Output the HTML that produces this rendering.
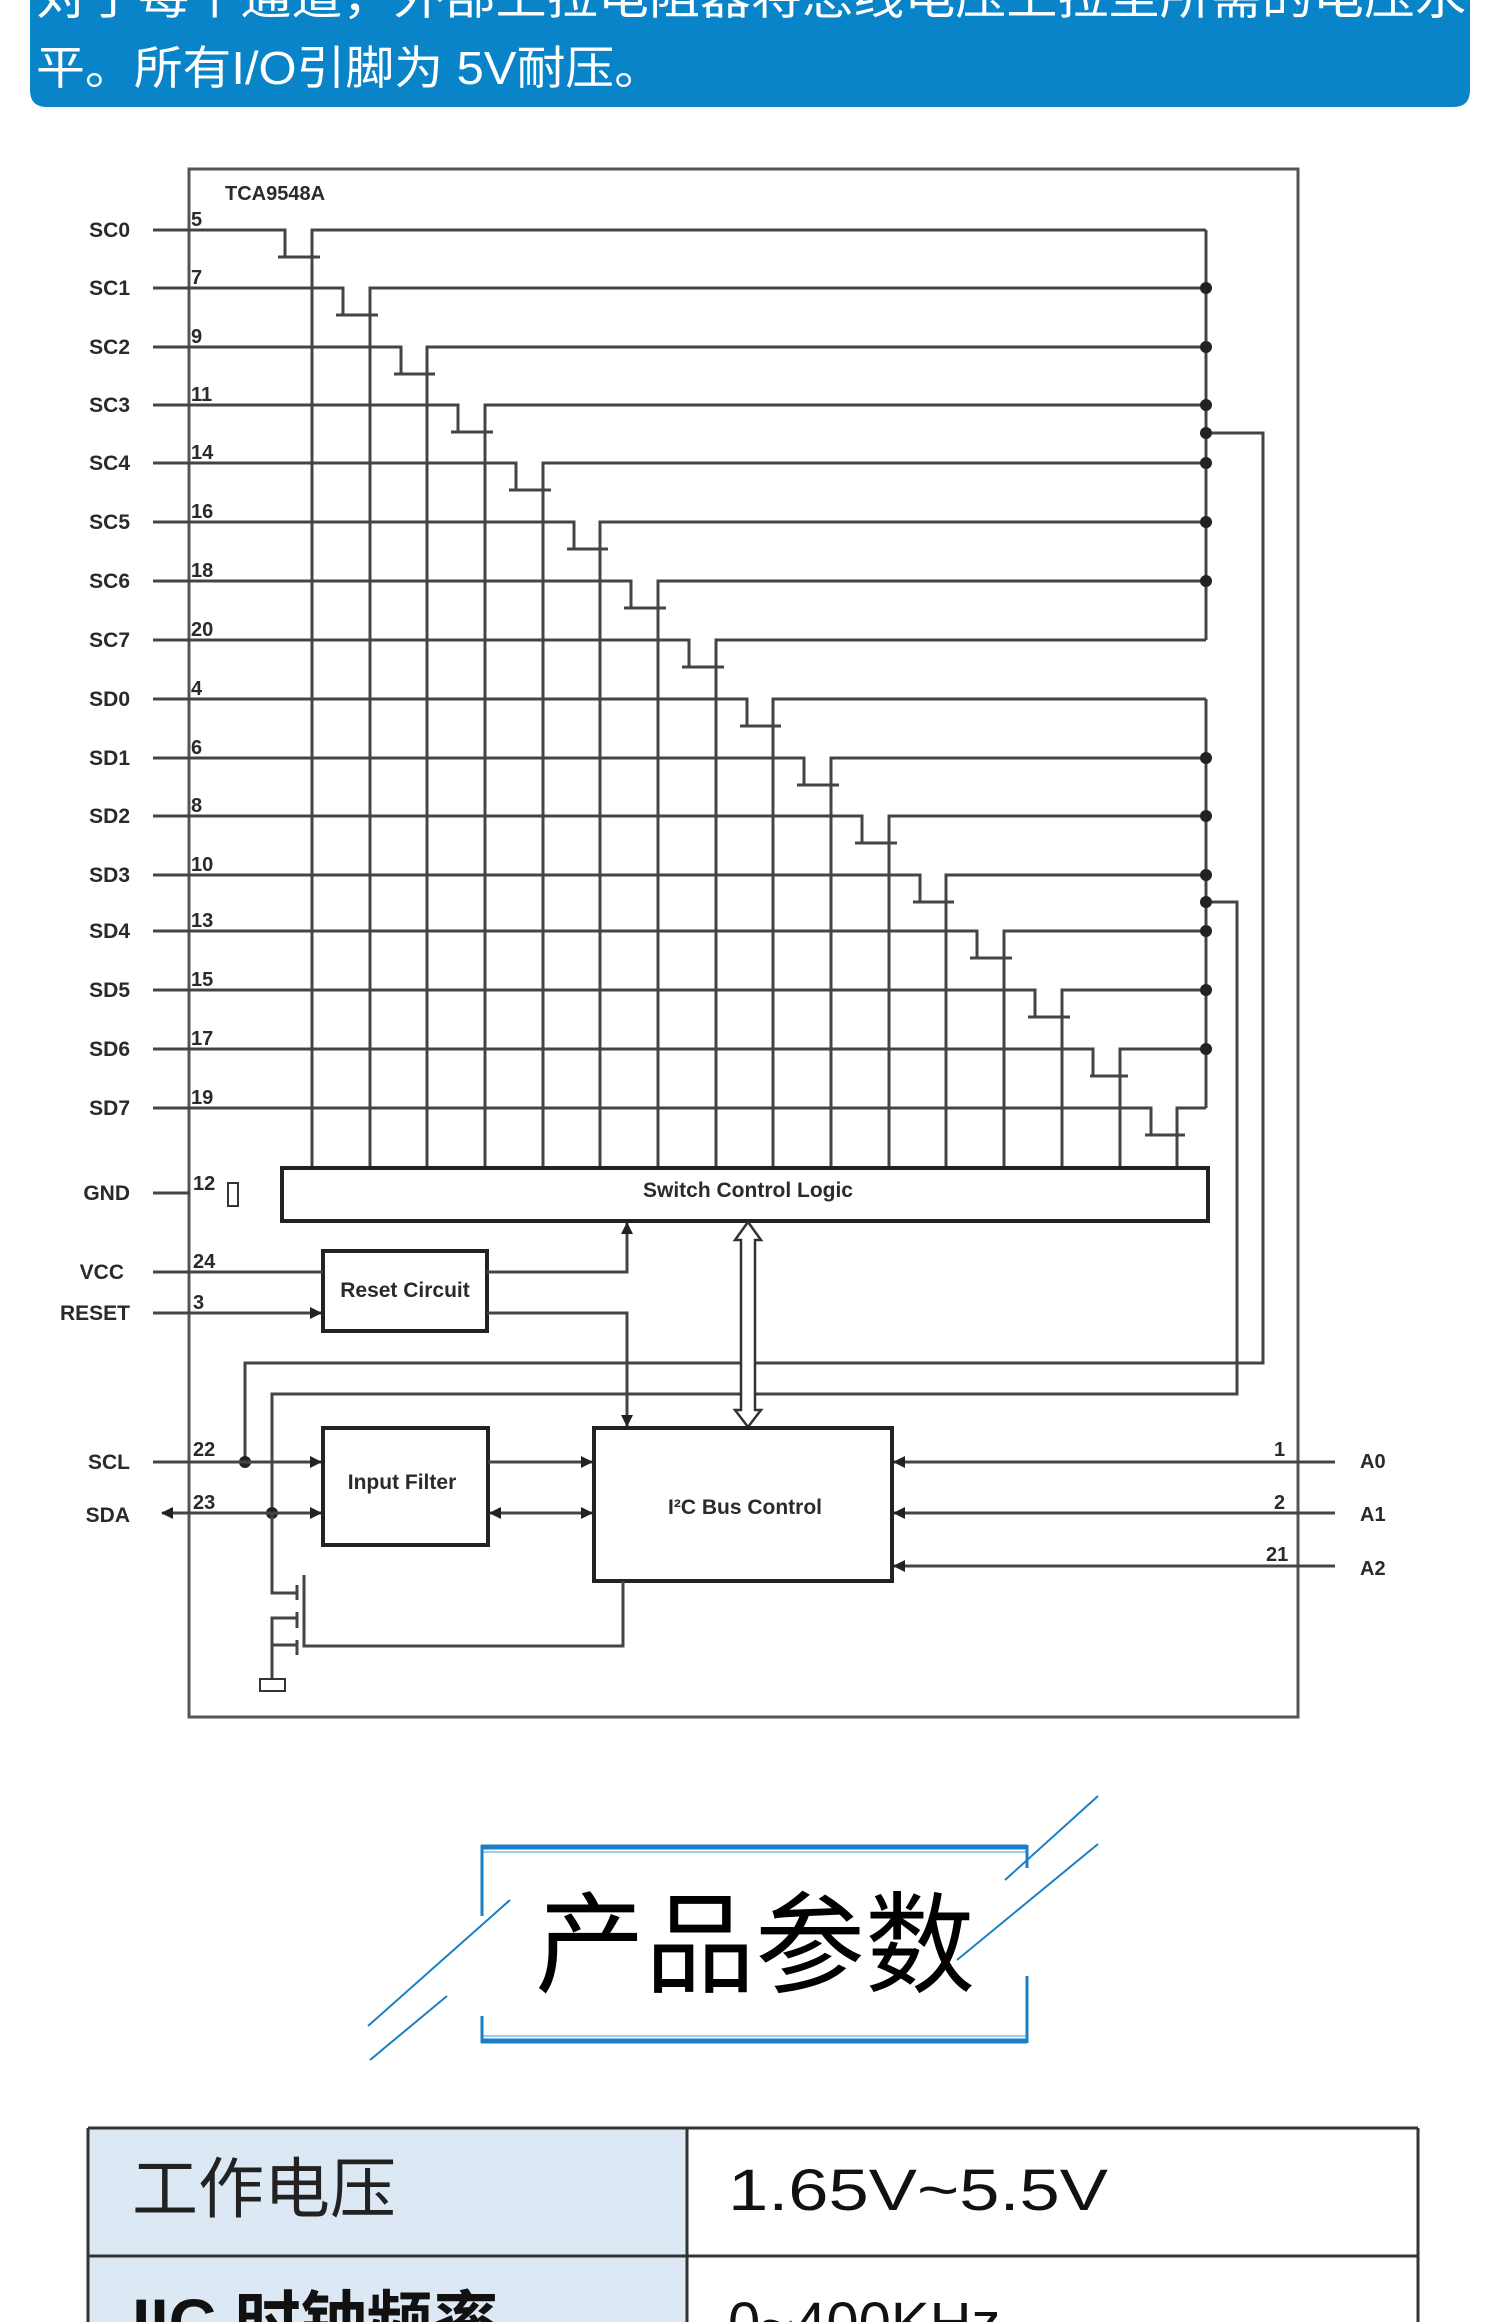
<!DOCTYPE html>
<html><head><meta charset="utf-8"><style>
html,body{margin:0;padding:0;background:#fff;}
body{width:1500px;height:2322px;overflow:hidden;}
svg{display:block;}
.l{fill:none;stroke:#444;stroke-width:3;}
.b{fill:none;stroke:#222;stroke-width:4;}
.t{font-family:"Liberation Sans",sans-serif;font-weight:bold;fill:#2a2a2a;}
</style></head><body>
<svg width="1500" height="2322" viewBox="0 0 1500 2322" xmlns="http://www.w3.org/2000/svg">
<defs>
<marker id="ar" markerWidth="12" markerHeight="12" refX="11" refY="6" orient="auto" markerUnits="userSpaceOnUse"><path d="M0,0 L12,6 L0,12 z" fill="#222"/></marker>
<marker id="al" markerWidth="12" markerHeight="12" refX="1" refY="6" orient="auto" markerUnits="userSpaceOnUse"><path d="M12,0 L0,6 L12,12 z" fill="#222"/></marker>
</defs>
<path d="M30,0 H1470 V90 Q1470,107 1453,107 H47 Q30,107 30,90 Z" fill="#0a84c8"/>
<text x="36" y="14" font-family="Liberation Sans,'Noto Sans CJK SC',sans-serif" font-size="46" fill="#fff" textLength="1430" lengthAdjust="spacingAndGlyphs">对于每个通道，外部上拉电阻器将总线电压上拉至所需的电压水</text>
<text x="36" y="84" font-family="Liberation Sans,'Noto Sans CJK SC',sans-serif" font-size="46" fill="#fff" textLength="627" lengthAdjust="spacingAndGlyphs">平。所有I/O引脚为 5V耐压。</text>

<rect x="189" y="169" width="1109" height="1548" fill="none" stroke="#555" stroke-width="3"/>
<text x="225" y="200" class="t" font-size="20">TCA9548A</text>

<g class="l">
<path d="M153,230 H285 V257 M278,257 H320 M312,1168 V230 H1206"/>
<path d="M153,288 H343 V315 M336,315 H378 M370,1168 V288 H1206"/>
<path d="M153,347 H401 V374 M394,374 H435 M427,1168 V347 H1206"/>
<path d="M153,405 H458 V432 M451,432 H493 M485,1168 V405 H1206"/>
<path d="M153,463 H516 V490 M509,490 H551 M543,1168 V463 H1206"/>
<path d="M153,522 H574 V549 M567,549 H608 M600,1168 V522 H1206"/>
<path d="M153,581 H631 V608 M624,608 H666 M658,1168 V581 H1206"/>
<path d="M153,640 H689 V667 M682,667 H724 M716,1168 V640 H1206"/>
<path d="M153,699 H747 V726 M740,726 H781 M773,1168 V699 H1206"/>
<path d="M153,758 H804 V785 M797,785 H839 M831,1168 V758 H1206"/>
<path d="M153,816 H862 V843 M855,843 H897 M889,1168 V816 H1206"/>
<path d="M153,875 H920 V902 M913,902 H954 M946,1168 V875 H1206"/>
<path d="M153,931 H977 V958 M970,958 H1012 M1004,1168 V931 H1206"/>
<path d="M153,990 H1035 V1017 M1028,1017 H1070 M1062,1168 V990 H1206"/>
<path d="M153,1049 H1093 V1076 M1090,1076 H1128 M1120,1168 V1049 H1206"/>
<path d="M153,1108 H1151 V1135 M1145,1135 H1185 M1177,1168 V1108 H1206"/>
<path d="M1206,230 V640 M1206,699 V1108"/>
<path d="M1206,433 H1263 V1363 H245 V1462"/>
<path d="M1206,902 H1237 V1394 H272 V1513"/>
</g>
<g fill="#222">
<circle cx="1206" cy="288" r="6"/><circle cx="1206" cy="347" r="6"/><circle cx="1206" cy="405" r="6"/><circle cx="1206" cy="433" r="6"/><circle cx="1206" cy="463" r="6"/><circle cx="1206" cy="522" r="6"/><circle cx="1206" cy="581" r="6"/>
<circle cx="1206" cy="758" r="6"/><circle cx="1206" cy="816" r="6"/><circle cx="1206" cy="875" r="6"/><circle cx="1206" cy="902" r="6"/><circle cx="1206" cy="931" r="6"/><circle cx="1206" cy="990" r="6"/><circle cx="1206" cy="1049" r="6"/>
<circle cx="245" cy="1462" r="6"/><circle cx="272" cy="1513" r="6"/>
</g>
<g class="t" font-size="21" text-anchor="end">
<text x="130" y="237">SC0</text><text x="130" y="295">SC1</text><text x="130" y="354">SC2</text><text x="130" y="412">SC3</text>
<text x="130" y="470">SC4</text><text x="130" y="529">SC5</text><text x="130" y="588">SC6</text><text x="130" y="647">SC7</text>
<text x="130" y="706">SD0</text><text x="130" y="765">SD1</text><text x="130" y="823">SD2</text><text x="130" y="882">SD3</text>
<text x="130" y="938">SD4</text><text x="130" y="997">SD5</text><text x="130" y="1056">SD6</text><text x="130" y="1115">SD7</text>
<text x="130" y="1200">GND</text><text x="124" y="1279">VCC</text><text x="130" y="1320">RESET</text>
<text x="130" y="1469">SCL</text><text x="130" y="1522">SDA</text>
</g>
<g class="t" font-size="20">
<text x="191" y="226">5</text><text x="191" y="284">7</text><text x="191" y="343">9</text><text x="191" y="401">11</text>
<text x="191" y="459">14</text><text x="191" y="518">16</text><text x="191" y="577">18</text><text x="191" y="636">20</text>
<text x="191" y="695">4</text><text x="191" y="754">6</text><text x="191" y="812">8</text><text x="191" y="871">10</text>
<text x="191" y="927">13</text><text x="191" y="986">15</text><text x="191" y="1045">17</text><text x="191" y="1104">19</text>
<text x="193" y="1190">12</text><text x="193" y="1268">24</text><text x="193" y="1309">3</text>
<text x="193" y="1456">22</text><text x="193" y="1509">23</text>
<text x="1274" y="1456">1</text><text x="1274" y="1509">2</text><text x="1266" y="1561">21</text>
<text x="1360" y="1468">A0</text><text x="1360" y="1521">A1</text><text x="1360" y="1575">A2</text>
</g>

<rect x="282" y="1168" width="926" height="53" fill="#fff" class="b" stroke-width="3"/>
<text x="748" y="1197" class="t" font-size="21" text-anchor="middle">Switch Control Logic</text>

<path class="l" d="M153,1193 H190"/>
<rect x="228" y="1183" width="10" height="23" fill="none" stroke="#333" stroke-width="2"/>

<rect x="323" y="1251" width="164" height="80" class="b"/>
<text x="405" y="1297" class="t" font-size="21" text-anchor="middle">Reset Circuit</text>
<path class="l" d="M153,1272 H323"/>
<path class="l" d="M153,1313 H321" marker-end="url(#ar)"/>
<path class="l" d="M487,1272 H627 V1223" marker-end="url(#ar)"/>
<path class="l" d="M487,1313 H627 V1426" marker-end="url(#ar)"/>

<path d="M748,1222 L761,1240 H755 V1410 H761 L748,1427 L735,1410 H741 V1240 H735 Z" fill="#fff" stroke="#333" stroke-width="2.5"/>

<rect x="594" y="1428" width="298" height="153" class="b"/>
<text x="745" y="1514" class="t" font-size="21" text-anchor="middle">I²C Bus Control</text>

<rect x="323" y="1428" width="165" height="117" class="b"/>
<text x="402" y="1489" class="t" font-size="21" text-anchor="middle">Input Filter</text>

<path class="l" d="M153,1462 H321" marker-end="url(#ar)"/>
<path class="l" d="M162,1513 H321" marker-start="url(#al)" marker-end="url(#ar)"/>
<path class="l" d="M488,1462 H592" marker-end="url(#ar)"/>
<path class="l" d="M490,1513 H592" marker-start="url(#al)" marker-end="url(#ar)"/>
<path class="l" d="M1335,1462 H894" marker-end="url(#ar)"/>
<path class="l" d="M1335,1513 H894" marker-end="url(#ar)"/>
<path class="l" d="M1335,1566 H894" marker-end="url(#ar)"/>

<g class="l" stroke-width="2.5">
<path d="M272,1513 V1593 H297"/>
<path d="M297,1585 V1600 M297,1612 V1628 M297,1640 V1655"/>
<path d="M304,1575 V1646 H623 V1581"/>
<path d="M297,1618 H272 V1680 M272,1645 H297"/>
</g>
<rect x="260" y="1679" width="25" height="12" fill="none" stroke="#333" stroke-width="2"/>

<g stroke="#1a7fc6" fill="none">
<path d="M481,1847 H1027" stroke-width="5"/>
<path d="M481,1852 H1027" stroke="#9cd0f0" stroke-width="2"/>
<path d="M481,2041 H1027" stroke-width="5"/>
<path d="M481,2036 H1027" stroke="#9cd0f0" stroke-width="2"/>
<path d="M482,1845 V1916 M482,2016 V2043 M1027,1845 V1868 M1027,1976 V2043" stroke-width="3"/>
<path d="M368,2026 L510,1900 M370,2060 L447,1996 M1098,1796 L1005,1880 M1098,1844 L957,1960" stroke-width="2"/>
</g>
<text x="755" y="1984" text-anchor="middle" font-family="'Noto Sans CJK SC',sans-serif" font-size="110" fill="#000">产品参数</text>

<rect x="88" y="2128" width="599" height="200" fill="#dce9f5"/>
<path d="M88,2128 H1418 M88,2256 H1418 M88,2128 V2322 M687,2128 V2322 M1418,2128 V2322" stroke="#333" stroke-width="3" fill="none"/>
<text x="132" y="2212" font-family="'Noto Sans CJK SC',sans-serif" font-size="66" fill="#222">工作电压</text>
<text x="728" y="2210" font-family="'Liberation Sans',sans-serif" font-size="58" fill="#111" textLength="380" lengthAdjust="spacingAndGlyphs">1.65V~5.5V</text>
<text x="132" y="2345" font-family="'Liberation Sans','Noto Sans CJK SC',sans-serif" font-size="66" font-weight="bold" fill="#111">IIC 时钟频率</text>
<text x="728" y="2343" font-family="'Liberation Sans',sans-serif" font-size="58" fill="#111">0~400KHz</text>
</svg>
</body></html>
